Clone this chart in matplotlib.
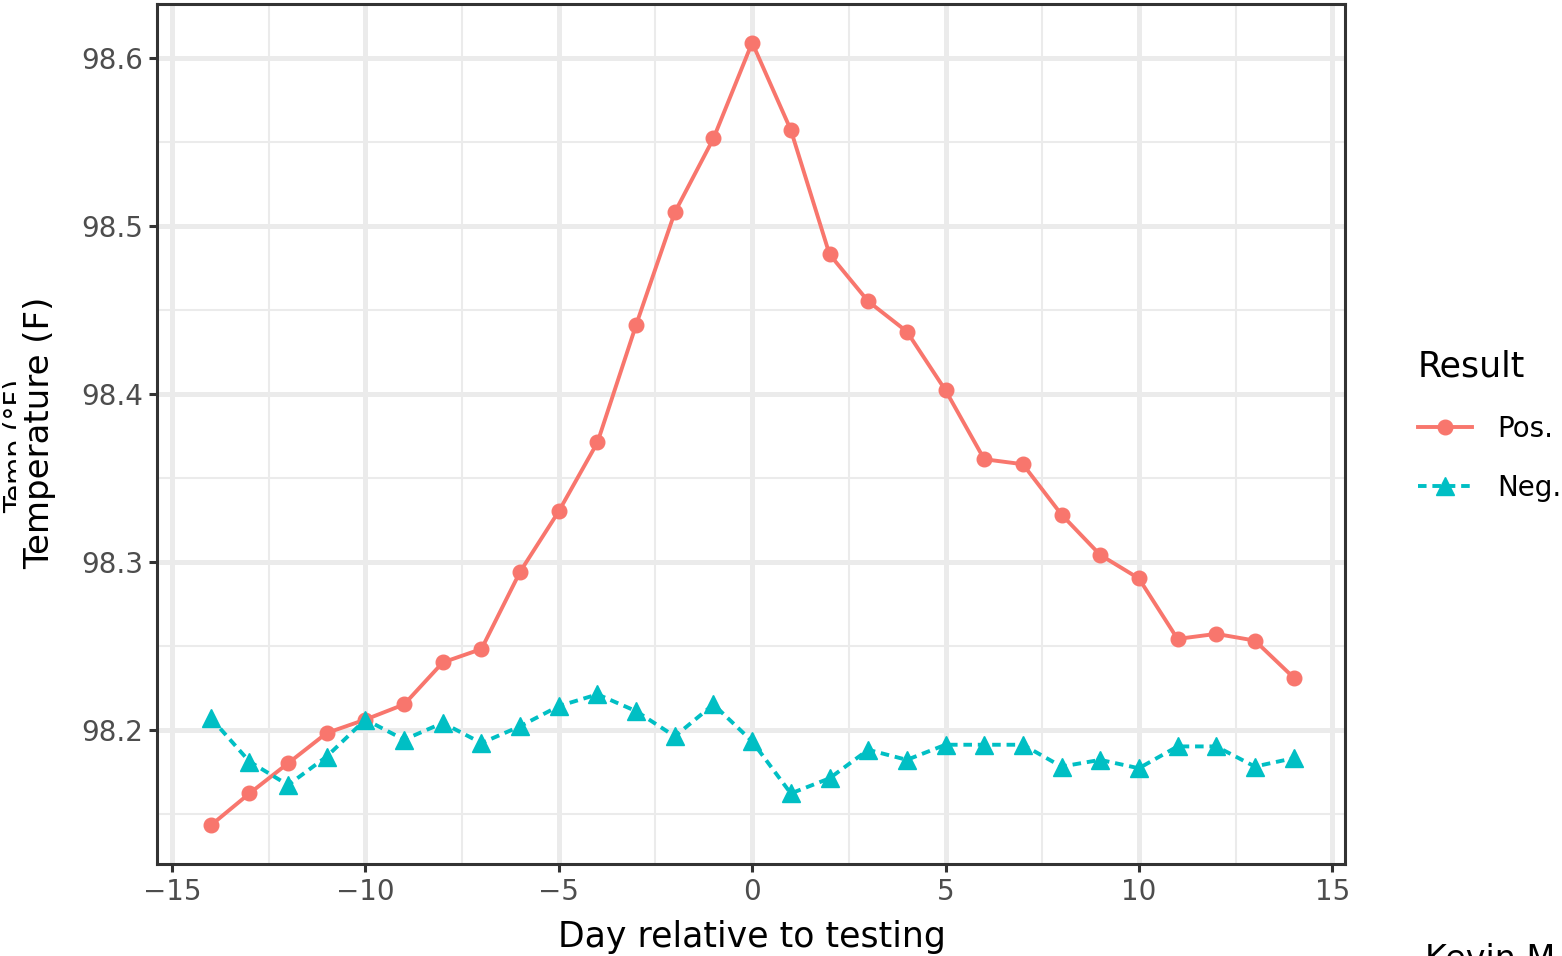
import matplotlib
matplotlib.use("Agg")
import matplotlib.pyplot as plt
from matplotlib.patches import Rectangle
from matplotlib.ticker import MultipleLocator

plt.rcParams['font.family'] = ['DejaVu Sans']

days = list(range(-14, 15))
pos_temp = [98.143, 98.162, 98.180, 98.198, 98.206, 98.215, 98.240, 98.248, 98.294,
            98.330, 98.371, 98.441, 98.508, 98.552, 98.609, 98.557, 98.483, 98.455,
            98.437, 98.402, 98.361, 98.358, 98.328, 98.304, 98.290, 98.254, 98.257,
            98.253, 98.231]
neg_temp = [98.207, 98.181, 98.167, 98.184, 98.206, 98.194, 98.204, 98.192, 98.202,
            98.214, 98.221, 98.211, 98.196, 98.215, 98.193, 98.162, 98.171, 98.188,
            98.182, 98.191, 98.191, 98.191, 98.178, 98.182, 98.177, 98.190, 98.190,
            98.178, 98.183]
x_ticks = [-15, -10, -5, 0, 5, 10, 15]
y_ticks = [98.2, 98.3, 98.4, 98.5, 98.6]
y_tick_labels = ["98.2", "98.3", "98.4", "98.5", "98.6"]
series_labels = ["Pos.", "Neg."]
legend_title = "Result"
x_title = "Day relative to testing"
y_title = "Temperature (F)"
ghost_title = "Temp (°F)"
credit = "Kevin M"

POS = "#F8766D"
NEG = "#00BFC4"
W, H = 1562, 956

fig = plt.figure(figsize=(W / 100, H / 100), dpi=100)
fig.patch.set_facecolor("white")
ax = fig.add_axes([157 / W, (H - 864) / H, (1345 - 157) / W, (864 - 4) / H])

ax.plot(days, pos_temp, color=POS, lw=2.8, marker="o", ms=10.5, label=series_labels[0], zorder=3)
ax.plot(days, neg_temp, color=NEG, lw=2.8, ls=(0, (2.2, 1.5)), marker="^", ms=12.5,
        label=series_labels[1], zorder=3)

ax.set_xlim(-15.39, 15.33)
ax.set_ylim(98.120, 98.632)
ax.set_xticks(x_ticks)
ax.set_xticklabels([("\u2212" + str(-v)) if v < 0 else str(v) for v in x_ticks])
ax.set_yticks(y_ticks)
ax.set_yticklabels(y_tick_labels)
ax.xaxis.set_minor_locator(MultipleLocator(2.5))
ax.yaxis.set_minor_locator(MultipleLocator(0.05))
ax.grid(which="major", color="#EBEBEB", lw=3.6, zorder=0)
ax.grid(which="minor", color="#EBEBEB", lw=1.5, zorder=0)
ax.set_axisbelow(True)
ax.tick_params(which="major", length=6, width=2.2, color="#333333", labelcolor="#4D4D4D",
               labelsize=20, pad=4)
ax.tick_params(which="minor", length=0)
for s in ax.spines.values():
    s.set_color("#333333")
    s.set_linewidth(2.2)

# axis titles
fig.text(752 / W, (H - 937) / H, x_title, ha="center", va="center", fontsize=25, color="black")
# ghost original label, partly covered
fig.text(3 / W, (H - 513) / H, ghost_title, rotation=90, ha="left", va="bottom",
         fontsize=20, color="black", zorder=1)
fig.patches.append(Rectangle((16 / W, (H - 590) / H), 46 / W, 300 / H, transform=fig.transFigure,
                             facecolor="white", edgecolor="none", zorder=2))
fig.text(40 / W, (H - 433) / H, y_title, rotation=90, ha="center", va="center",
         fontsize=24.5, color="black", zorder=3)

leg = fig.legend(loc="upper left", bbox_to_anchor=(1404 / W, (H - 336) / H), frameon=False,
                 title=legend_title, title_fontsize=25, fontsize=20, alignment="left",
                 handlelength=1.95, handletextpad=0.9, labelspacing=1.12, borderpad=0)

fig.text(1425 / W, 13 / H, credit, ha="left", va="top", fontsize=24, color="black")

fig.savefig("out.png", dpi=100, facecolor="white")
